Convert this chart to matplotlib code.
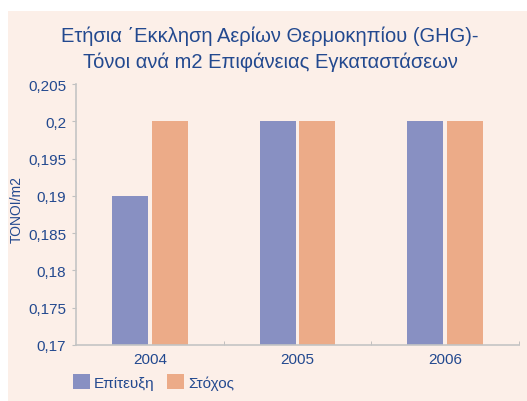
import numpy as np
import matplotlib
matplotlib.use("Agg")
import matplotlib.pyplot as plt
from matplotlib import font_manager
from matplotlib.patches import Rectangle

# data
years = ["2004", "2005", "2006"]
achieved = [0.19, 0.2, 0.2]
target = [0.2, 0.2, 0.2]
series_names = ["Επίτευξη", "Στόχος"]
yticks = [0.17, 0.175, 0.18, 0.185, 0.19, 0.195, 0.2, 0.205]

names = {f.name for f in font_manager.fontManager.ttflist}
font = "Liberation Sans Narrow" if "Liberation Sans Narrow" in names else "Liberation Sans"
plt.rcParams['font.family'] = [font, 'DejaVu Sans']

txt = "#23498f"
bg = "#fcefe8"
c_ach = "#8890c2"
c_tgt = "#ecab88"

fig = plt.figure(figsize=(5.27, 4.02), dpi=100)
fig.patch.set_facecolor("white")
fig.patches.append(Rectangle((8 / 527, 0), 1, 1 - 12 / 402, transform=fig.transFigure,
                             facecolor=bg, edgecolor="none", zorder=-5))

ax = fig.add_axes([76 / 527, 1 - 346 / 402, (519 - 76) / 527, (346 - 85) / 402])
ax.set_facecolor(bg)

x = np.arange(len(years))
w = 0.243
off = 0.135
ax.bar(x - off, achieved, width=w, color=c_ach, label=series_names[0])
ax.bar(x + off, target, width=w, color=c_tgt, label=series_names[1])

ax.set_xlim(-0.5, 2.5)
ax.set_ylim(0.17, 0.205)
ax.set_yticks(yticks)
ax.set_yticklabels([f"{v:g}".replace(".", ",") for v in yticks])
ax.set_xticks(x)
ax.set_xticklabels(years)
ax.set_xticks([0.5, 1.5, 2.5], minor=True)
ax.tick_params(axis="x", which="major", length=0, pad=5, labelsize=11, labelcolor=txt)
ax.tick_params(axis="x", which="minor", length=3, direction="in", color="#b8b8b8")
ax.tick_params(axis="y", length=3, color="#c0c0c0", labelsize=11, labelcolor=txt, pad=4)

for s in ["top", "right"]:
    ax.spines[s].set_visible(False)
for s in ["left", "bottom"]:
    ax.spines[s].set_color("#c4c4c4")
    ax.spines[s].set_linewidth(1.2)

fig.text(17 / 527, 1 - 210 / 402, "TONOI/m2", rotation=90, ha="center", va="center",
         color=txt, fontsize=10)

fig.text(270 / 527, 1 - 36 / 402, "Ετήσια ΄Εκκληση Αερίων Θερμοκηπίου (GHG)-",
         ha="center", va="center", color=txt, fontsize=14.5)
fig.text(270 / 527, 1 - 62 / 402, "Τόνοι ανά m2 Επιφάνειας Εγκαταστάσεων",
         ha="center", va="center", color=txt, fontsize=14.5)

leg = fig.legend(loc="center left", bbox_to_anchor=(59 / 527, 1 - 383 / 402), ncol=2,
                 frameon=False, fontsize=11, handlelength=1.1, handleheight=1.1,
                 handletextpad=0.3, columnspacing=0.8)
for t in leg.get_texts():
    t.set_color(txt)

fig.savefig("out.png", dpi=100, facecolor=fig.get_facecolor())
